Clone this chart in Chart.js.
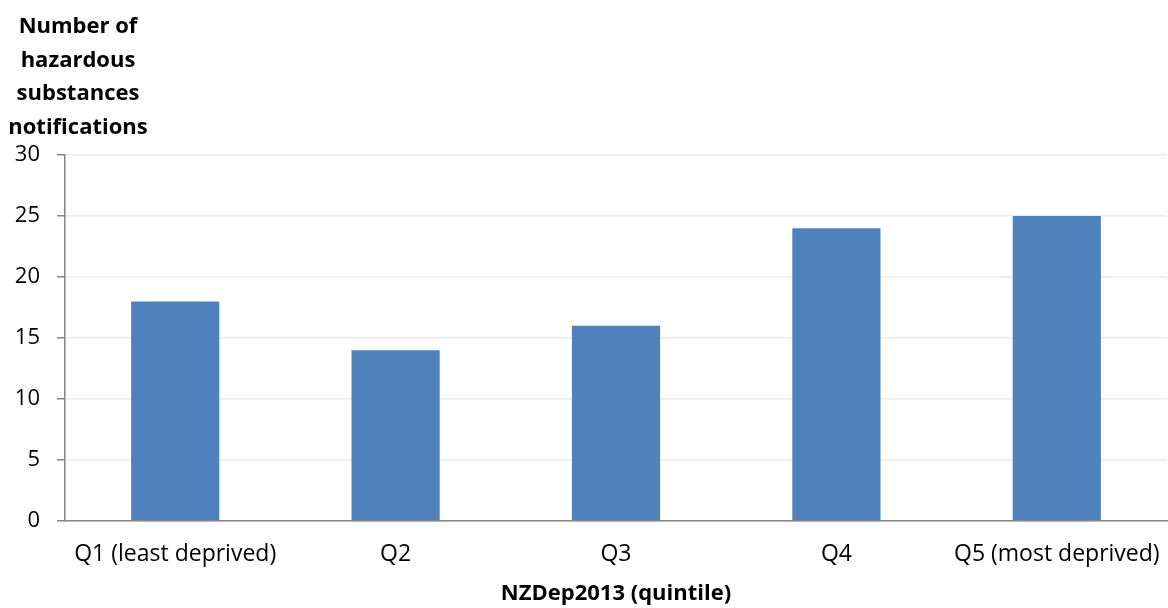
<!DOCTYPE html>
<html>
<head>
<meta charset="utf-8">
<script src="https://cdn.jsdelivr.net/npm/chart.js@4/dist/chart.umd.min.js"></script>
<style>
  html, body { margin: 0; padding: 0; background: #fff; }
  #wrap { width: 1168px; height: 608px; position: relative; }
</style>
</head>
<body>
<div id="wrap"><canvas id="grafico"></canvas></div>
<script>
const quintis = ['Q1 (least deprived)', 'Q2', 'Q3', 'Q4', 'Q5 (most deprived)'];
const notificacoes = [18, 14, 16, 24, 25];
const tituloY = ['Number of', 'hazardous', 'substances', 'notifications'];
const tituloX = 'NZDep2013 (quintile)';

const FONTE = '"Open Sans", Lato, sans-serif';

// y axis title drawn as a centred block above the axis
const tituloEixoY = {
    id: 'tituloEixoY',
    afterDraw(chart) {
        const ctx = chart.ctx;
        ctx.save();
        ctx.font = 'bold 22px ' + FONTE;
        ctx.fillStyle = '#000';
        ctx.textAlign = 'center';
        ctx.textBaseline = 'middle';
        tituloY.forEach((linha, i) => {
            ctx.fillText(linha, 78, 27 + i * 33.5);
        });
        ctx.restore();
    }
};

new Chart(document.getElementById('grafico'), {
    type: 'bar',
    data: {
        labels: quintis,
        datasets: [{
            data: notificacoes,
            backgroundColor: '#4F81BD',
            borderWidth: 0,
            barPercentage: 0.4,
            categoryPercentage: 1.0
        }]
    },
    options: {
        responsive: true,
        maintainAspectRatio: false,
        animation: false,
        layout: { padding: { top: 155, right: 1, left: 0, bottom: 0 } },
        plugins: {
            legend: { display: false },
            tooltip: { enabled: false }
        },
        scales: {
            x: {
                offset: true,
                grid: { display: false, drawTicks: false },
                border: { display: true, color: '#868686', width: 1.5 },
                ticks: {
                    color: '#000',
                    padding: 20,
                    maxRotation: 0,
                    autoSkip: false,
                    font: { family: FONTE, size: 23 }
                },
                title: {
                    display: true,
                    text: tituloX,
                    color: '#000',
                    padding: { top: 2, bottom: 1 },
                    font: { family: FONTE, size: 22, weight: 'bold' }
                },
                afterFit(scale) {
                    scale.height = 87;
                    // labels fit inside the category bands, no extra side padding
                    scale.paddingLeft = 0;
                    scale.paddingRight = 0;
                }
            },
            y: {
                min: 0,
                max: 30,
                grid: {
                    color: '#EBEBEB',
                    tickColor: '#868686',
                    tickLength: 8,
                    lineWidth: 1.5
                },
                border: { display: true, color: '#868686', width: 1.5 },
                ticks: {
                    stepSize: 5,
                    color: '#000',
                    padding: 17,
                    font: { family: FONTE, size: 22 }
                },
                afterFit(scale) { scale.width = 65; }
            }
        }
    },
    plugins: [tituloEixoY]
});
</script>
</body>
</html>
